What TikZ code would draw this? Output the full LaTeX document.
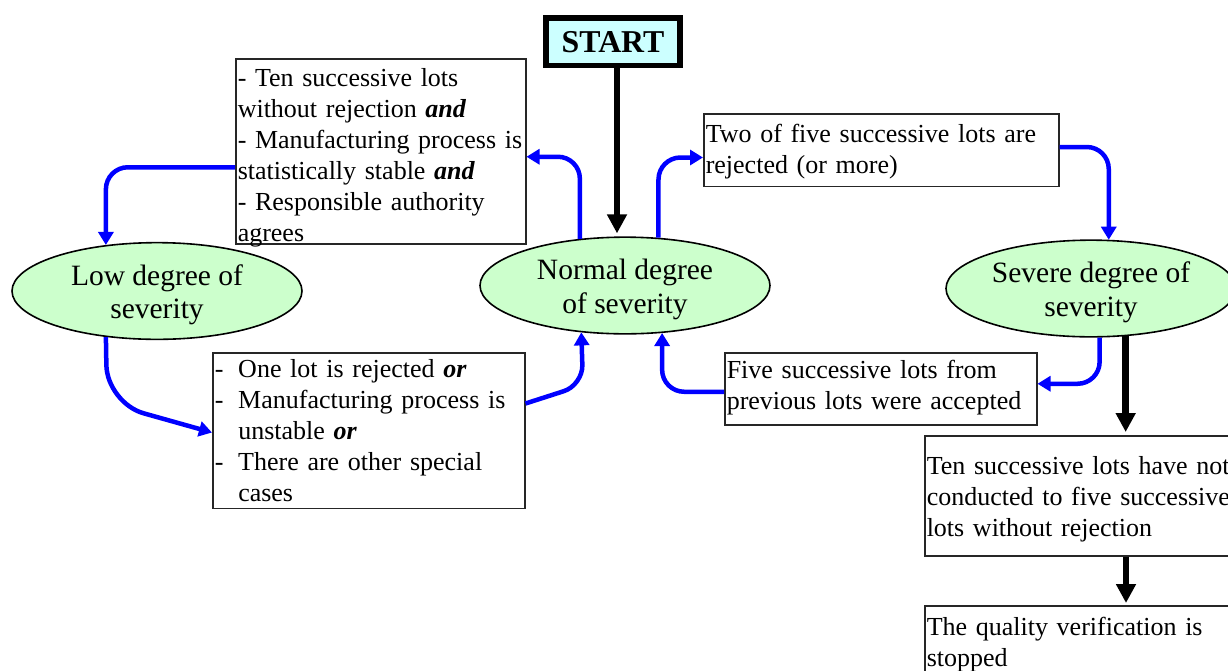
\documentclass[tikz,border=0pt]{standalone}
\usepackage{fontspec}
\setmainfont{Liberation Serif}
\usetikzlibrary{shapes.geometric,arrows.meta,calc}
\definecolor{ellfill}{HTML}{CCFFCC}
\definecolor{startfill}{HTML}{CCFFFF}
\newcommand{\topstrut}{\rule{0pt}{28.5pt}}
\begin{document}
\begin{tikzpicture}[x=1pt,y=-1pt,
  ell/.style={ellipse, draw=black, line width=1.6pt, fill=ellfill, minimum width=290pt, minimum height=96.5pt, inner sep=0pt, align=center, font=\fontsize{29.5}{33.5}\selectfont},
  box/.style={draw=black!85, line width=1.5pt, anchor=north west, inner xsep=2pt, inner ysep=0pt, align=left, font=\fontsize{26}{31}\selectfont},
  barrow/.style={draw=blue, line width=4.5pt, -{Triangle[length=13pt,width=15pt]}, rounded corners=22pt},
  karrow/.style={draw=black, line width=6.5pt, -{Triangle[length=19pt,width=19pt]}},
]
\useasboundingbox (0,0) rectangle (1228,670);
\clip (0,0) rectangle (1228,670);

\node[draw=black, line width=5.7pt, fill=startfill, minimum width=134pt, minimum height=47.6pt, inner sep=0pt, font=\fontsize{31.8}{36}\selectfont\bfseries] (start) at (613,41.7) {START};

\node[box, text width=286pt, text height=27.5pt, text depth=157.5pt] (A) at (235,58) {- Ten successive lots\\ without rejection \textbf{\textit{and}}\\ \mbox{- Manufacturing process is}\\ statistically stable \textbf{\textit{and}}\\ - Responsible authority\\ agrees};

\node[box, text width=351pt, text height=28.5pt, text depth=44pt] (B) at (703,113) {Two of five successive lots are\\ rejected (or more)};

\node[box, text width=308pt, text height=25pt, text depth=130.5pt] (C) at (212,352) {\makebox[23.5pt][l]{-}One lot is rejected \textbf{\textit{or}}\\ \makebox[23.5pt][l]{-}\mbox{Manufacturing process is}\\ \hspace*{23.5pt}unstable \textbf{\textit{or}}\\ \makebox[23.5pt][l]{-}There are other special\\ \hspace*{23.5pt}cases};

\node[box, text width=308pt, text height=26pt, text depth=46pt] (D) at (724,352) {Five successive lots from\\ \mbox{previous lots were accepted}};

\node[box, text width=330pt, text height=38.3pt, text depth=82pt] (E) at (924,435) {Ten successive lots have not\\ conducted to five successive\\ lots without rejection};

\node[box, text width=330pt, text height=30pt, text depth=70pt] (F) at (924,605) {The quality verification is\\ stopped};

\node[ell] (L) at (157,291) {\topstrut Low degree of\\severity};
\node[ell] (N) at (625,285.5) {\topstrut Normal degree\\of severity};
\node[ell] (S) at (1091,288.5) {\topstrut Severe degree of\\severity};

\coordinate (sx) at (617,0);
\coordinate (bx) at (1126,0);

\draw[karrow, shorten >=3pt] (start.south -| sx) -- (N.north -| sx);

\draw[barrow] (N.134.3) |- ([yshift=-5.5pt]A.east);
\draw[barrow] (N.55.9) |- ([yshift=-7.5pt]B.west);
\draw[barrow] ([yshift=3pt]B.east) -| (S.70.6);
\draw[barrow] ([yshift=-16pt]A.west) -| (L.138);
\draw[barrow, rounded corners=38pt] (L.222) -- (107,403) -- ([yshift=-2pt]C.west);
\draw[barrow, rounded corners=20pt] ([yshift=27pt]C.east) -- (583,385) -- (N.227.9);
\draw[barrow] ([yshift=-3pt]D.west) -| (N.308.3);
\draw[barrow] (S.280.5) |- ([yshift=5pt]D.east);

\draw[karrow, shorten >=3pt] (S.306.6) -- (S.306.6 |- E.north);
\draw[karrow, shorten >=2pt] (bx |- E.south) -- (bx |- F.north);
\end{tikzpicture}
\end{document}
